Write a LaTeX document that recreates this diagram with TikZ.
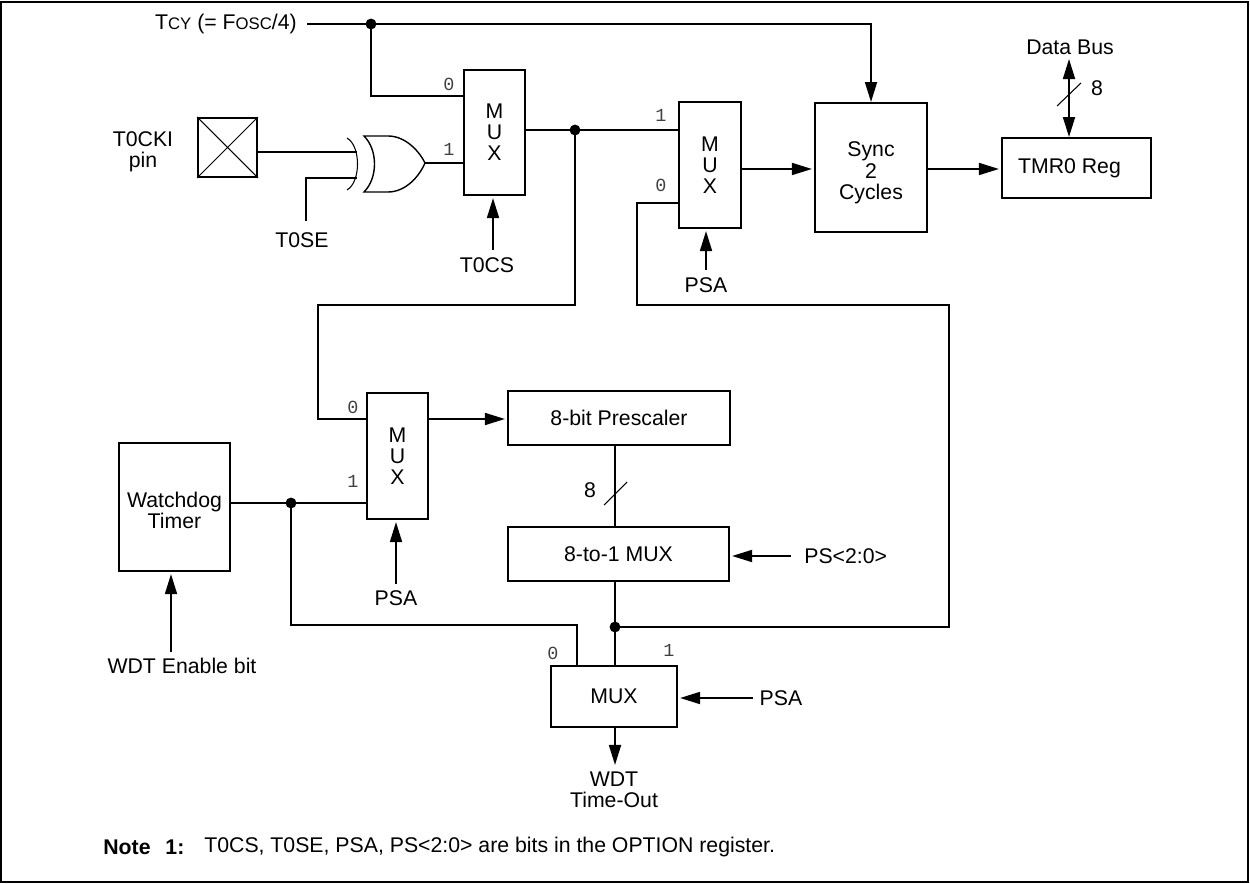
\documentclass[tikz,border=0pt]{standalone}
\usepackage{fontspec}
\setmainfont{Liberation Sans}
\setmonofont{Liberation Mono}
\usepackage{tikz}
\usetikzlibrary{arrows.meta}
\newcommand{\smallcap}[1]{{\fontsize{9.5}{11}\selectfont #1}}
\newcommand{\topgap}[1]{\rule{0pt}{#1}}
\tikzstyle{block} = [rectangle, draw=black, line width=1.1pt, inner sep=0pt, align=center, font=\fontsize{12.1}{12}\selectfont]
\tikzstyle{sig} = [line width=1.1pt]
\tikzstyle{sig_arrow} = [line width=1.1pt, shorten >=1.2pt, -{Triangle[length=11.4pt,width=6.8pt]}]
\tikzstyle{junction} = [circle, fill=black, inner sep=0pt, minimum size=6.2pt]
\tikzstyle{label_text} = [inner sep=0pt, align=center, font=\fontsize{12.1}{12}\selectfont]
\tikzstyle{pin_num} = [inner sep=0pt, text=black!75, font=\ttfamily\fontsize{10.5}{11}\selectfont]

\begin{document}
\begin{tikzpicture}[x=0.02cm, y=-0.02cm]
 \useasboundingbox (0,0) rectangle (1250,884);
 \draw[line width=1.1pt] (1,2) rectangle (1248,882);

 % boxes
 \node (mux_a) [block, minimum width=1.22cm, minimum height=2.5cm] at (494.5,132.5) {M\\U\\X};
 \node (mux_b) [block, minimum width=1.24cm, minimum height=2.52cm] at (710,165) {M\\U\\X};
 \node (mux_c) [block, minimum width=1.22cm, minimum height=2.52cm] at (397.5,456) {M\\U\\X};
 \node (mux_d) [block, minimum width=2.52cm, minimum height=1.22cm] at (614,696.5) {MUX};
 \node (sync) [block, minimum width=2.24cm, minimum height=2.58cm] at (871,167.5) {\topgap{14.5pt}Sync\\2\\Cycles};
 \node (tmr_reg) [block, minimum width=2.98cm, minimum height=1.2cm] at (1076.5,168) {TMR0 Reg\hspace*{0.28cm}};
 \node (prescaler) [block, minimum width=4.44cm, minimum height=1.08cm] at (619,418) {8-bit Prescaler};
 \node (sel_mux) [block, minimum width=4.42cm, minimum height=1.08cm] at (618.5,554) {8-to-1 MUX};
 \node (watchdog) [block, minimum width=2.22cm, minimum height=2.56cm] at (174.5,507) {\topgap{12.2pt}Watchdog\\Timer};
 \node (pin_box) [block, minimum width=1.18cm, minimum height=1.18cm] at (227.5,147.5) {};
 \draw[line width=0.6pt] (pin_box.north west) -- (pin_box.south east) (pin_box.north east) -- (pin_box.south west);

 % labels
 \node (lbl_tcy) [label_text, anchor=east] at (297,24) {T\smallcap{CY} (= F\smallcap{OSC}/4)};
 \node (lbl_pin) [label_text] at (143,152) {T0CKI\\pin};
 \node (lbl_tose) [label_text] at (302,240) {T0SE};
 \node (lbl_tocs) [label_text] at (487,265) {T0CS};
 \node (lbl_bus) [label_text] at (1070,47) {Data Bus};
 \node (lbl_psa_b) [label_text] at (706,285) {PSA};
 \node (lbl_psa_c) [label_text] at (396,598) {PSA};
 \node (lbl_psa_d) [label_text] at (781,698) {PSA};
 \node (lbl_ps) [label_text, anchor=west] at (804,556) {PS<2:0>};
 \node (lbl_en) [label_text] at (182,666) {WDT Enable bit};
 \node (lbl_out) [label_text] at (614,790) {WDT\\Time-Out};
 \node (lbl_bus_w) [label_text] at (1097,88) {8};
 \node (lbl_pre_w) [label_text] at (590,490) {8};
 \node (lbl_note) [label_text, anchor=west] at (103,847) {\textbf{Note\hspace{0.7em}1:}};
 \node (lbl_note_t) [label_text, anchor=west] at (204,847) {T0CS, T0SE, PSA, PS<2:0> are bits in the OPTION register.};

 % mux input numbers
 \foreach \n/\x/\y/\t in {a0/449/84/0, a1/449/149/1, b1/661/115/1, b0/661/185/0, c0/353/407/0, c1/353/481/1, d0/553/653/0, d1/669/650/1}
 {
     \node (num_\n) [pin_num] at (\x,\y) {\t};
 }

 % junctions
 \node (dot_tcy) [junction] at (371,24) {};
 \node (dot_out) [junction] at (575,130) {};
 \node (dot_wdt) [junction] at (291,503) {};
 \node (dot_sel) [junction] at (615,627) {};

 % xor gate
 \coordinate (xor_in_a) at (357,152);
 \coordinate (xor_in_b) at (357,178);
 \coordinate (xor_out) at (425,163);
 \draw[line width=0.6pt] (347,138) .. controls (361,146) and (361,182) .. (347,190);
 \draw[line width=0.8pt] (364,136) .. controls (378,150) and (378,178) .. (364,192) -- (388,192) .. controls (404,192) and (418,179) .. (xor_out) .. controls (418,149) and (404,136) .. (388,136) -- cycle;

 % connectors
 \draw[sig] (307,24) -- (dot_tcy.center);
 \draw[sig_arrow, shorten >=0pt] (dot_tcy.center) -| (sync.north);
 \draw[sig] (dot_tcy.center) |- (mux_a.west |- 0,96);
 \draw[sig] (pin_box.east |- xor_in_a) -- (xor_in_a);
 \draw[sig] (306,221) |- (xor_in_b);
 \draw[sig] (xor_out) -- (mux_a.west |- xor_out);
 \draw[sig_arrow] (493,250) -- (mux_a.south -| 493,0);
 \draw[sig] (mux_a.east |- dot_out) -- (mux_b.west |- dot_out);
 \draw[sig_arrow] (mux_b.east |- 0,169) -- (sync.west |- 0,169);
 \draw[sig_arrow] (sync.east |- 0,169) -- (tmr_reg.west |- 0,169);
 \draw[sig_arrow, shorten >=0pt, {Triangle[length=11.4pt,width=6.8pt]}-{Triangle[length=11.4pt,width=6.8pt]}] (1069,59) -- (tmr_reg.north -| 1069,0);
 \draw[line width=0.6pt] (1057,106) -- (1081,83);
 \draw[sig_arrow] (706,270) -- (mux_b.south -| lbl_psa_b);
 \draw[sig] (dot_out.center) -- (575,305) -- (318,305) |- (mux_c.west |- 0,419);
 \draw[sig_arrow] (mux_c.east |- 0,419) -- (prescaler.west |- 0,419);
 \draw[sig] (prescaler.south -| dot_sel) -- (sel_mux.north -| dot_sel);
 \draw[line width=0.6pt] (604,505) -- (627,482);
 \draw[sig_arrow] (791,556) -- (sel_mux.east |- lbl_ps);
 \draw[sig] (sel_mux.south -| dot_sel) -- (mux_d.north -| dot_sel);
 \draw[sig] (dot_sel.center) -- (949,627) -- (949,305) -- (637,305) |- (mux_b.west |- 0,203);
 \draw[sig_arrow] (753,698) -- (mux_d.east |- 0,698);
 \draw[sig_arrow, shorten >=0pt] (mux_d.south -| dot_sel) -- (615,765);
 \draw[sig] (watchdog.east |- dot_wdt) -- (mux_c.west |- dot_wdt);
 \draw[sig] (dot_wdt.center) |- (577,625) -- (577,666);
 \draw[sig_arrow] (396,584) -- (mux_c.south -| 396,0);
 \draw[sig_arrow] (171,652) -- (watchdog.south -| 171,0);
\end{tikzpicture}
\end{document}
